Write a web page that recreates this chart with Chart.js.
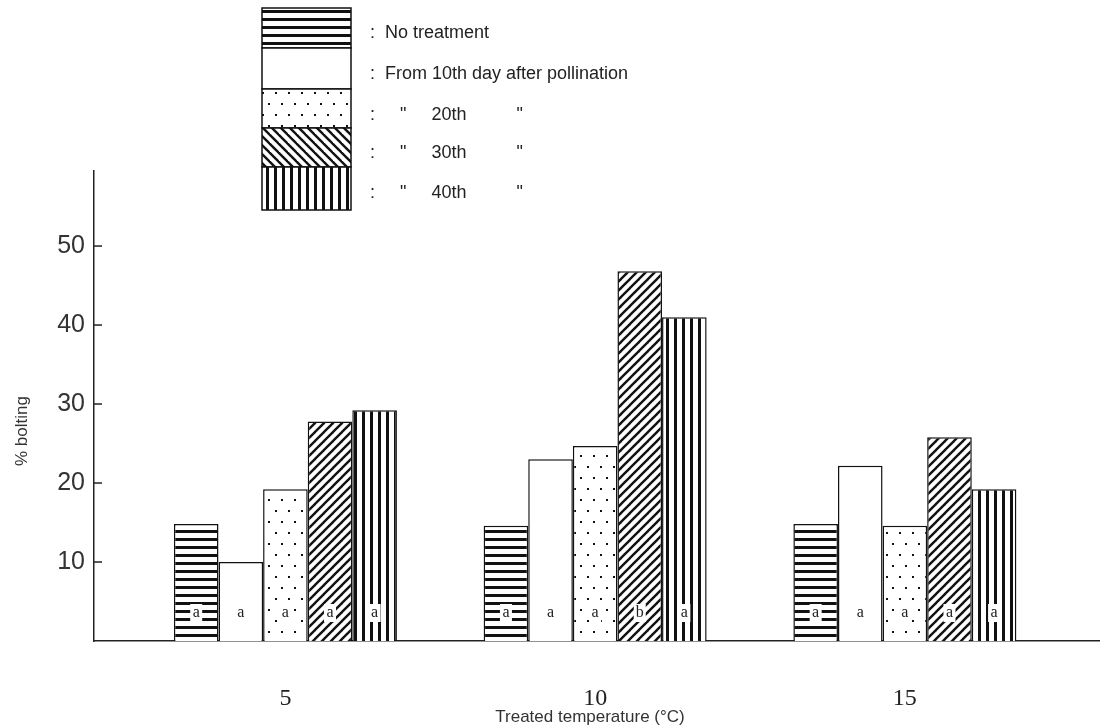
<!DOCTYPE html>
<html>
<head>
<meta charset="utf-8">
<script src="https://cdn.jsdelivr.net/npm/chart.js@4"></script>
<style>
  html, body { margin: 0; padding: 0; background: #fff; }
</style>
</head>
<body>
<canvas id="chart" width="1100" height="728"></canvas>
<script>
// Treated temperature (°C) and % bolting per treatment
const temps = [5, 10, 15];
const noTreatment = [14.8, 14.6, 14.8];
const from10th = [10.0, 23.0, 22.2];
const from20th = [19.2, 24.7, 14.6];
const from30th = [27.8, 46.8, 25.8];
const from40th = [29.2, 41.0, 19.2];
const yTicks = [10, 20, 30, 40, 50];

// significance letters, one list per series
const lettersNo = ['a', 'a', 'a'];
const letters10 = ['a', 'a', 'a'];
const letters20 = ['a', 'a', 'a'];
const letters30 = ['a', 'b', 'a'];
const letters40 = ['a', 'a', 'a'];

const legendLines = [
  ':  No treatment',
  ':  From 10th day after pollination',
  ':     "     20th          "',
  ':     "     30th          "',
  ':     "     40th          "'
];

function makePattern(w, h, draw) {
  const c = document.createElement('canvas');
  c.width = w; c.height = h;
  const g = c.getContext('2d');
  g.fillStyle = '#fff';
  g.fillRect(0, 0, w, h);
  g.fillStyle = '#111';
  g.strokeStyle = '#111';
  draw(g, w, h);
  return g.createPattern(c, 'repeat');
}

const horizPat = makePattern(8, 8, g => g.fillRect(0, 2, 8, 3));
const vertPat = makePattern(8, 8, g => g.fillRect(2, 0, 3, 8));
const dotPat = makePattern(13, 22, g => { g.fillRect(2, 4, 2, 2); g.fillRect(8, 15, 2, 2); });
function diag(dir) {
  return makePattern(9, 9, (g, w, h) => {
    g.lineWidth = 2.4;
    for (const k of [-9, 0, 9]) {
      g.beginPath();
      if (dir > 0) { g.moveTo(k - 1, h + 1); g.lineTo(k + w + 1, -1); }
      else { g.moveTo(k - 1, -1); g.lineTo(k + w + 1, h + 1); }
      g.stroke();
    }
  });
}
const slashPat = diag(1);
const backPat = diag(-1);

const series = [
  { label: 'No treatment', values: noTreatment, fill: horizPat, letters: lettersNo },
  { label: 'From 10th day after pollination', values: from10th, fill: '#fff', letters: letters10 },
  { label: '20th', values: from20th, fill: dotPat, letters: letters20 },
  { label: '30th', values: from30th, fill: slashPat, letters: letters30 },
  { label: '40th', values: from40th, fill: vertPat, letters: letters40 }
];
const legendFills = [horizPat, '#fff', dotPat, backPat, vertPat];

const extras = {
  id: 'extras',
  afterDraw(chart) {
    const ctx = chart.ctx;
    const y = chart.scales.y;
    const area = chart.chartArea;
    ctx.save();

    // inward tick marks on the y axis
    ctx.strokeStyle = '#222';
    ctx.lineWidth = 1.5;
    yTicks.forEach(v => {
      const py = y.getPixelForValue(v);
      ctx.beginPath();
      ctx.moveTo(area.left, py);
      ctx.lineTo(area.left + 8, py);
      ctx.stroke();
    });

    // letters near the bottom of each bar
    ctx.font = '16px "Liberation Serif"';
    ctx.textAlign = 'center';
    ctx.textBaseline = 'middle';
    series.forEach((s, i) => {
      chart.getDatasetMeta(i).data.forEach((bar, j) => {
        const ly = 613;
        if (i !== 1) {
          ctx.fillStyle = '#fff';
          ctx.fillRect(bar.x - 6, ly - 9, 12, 18);
        }
        ctx.fillStyle = '#222';
        ctx.fillText(s.letters[j], bar.x, ly);
      });
    });

    // legend block
    const rows = [8, 48, 89, 128, 167, 210];
    const textY = [33, 74, 115, 153, 193];
    ctx.font = '18px "Liberation Sans"';
    ctx.textAlign = 'left';
    legendFills.forEach((f, i) => {
      ctx.fillStyle = f;
      ctx.fillRect(262, rows[i], 89, rows[i + 1] - rows[i]);
      ctx.strokeStyle = '#111';
      ctx.lineWidth = 1.5;
      ctx.strokeRect(262, rows[i], 89, rows[i + 1] - rows[i]);
      ctx.fillStyle = '#222';
      ctx.fillText(legendLines[i], 370, textY[i]);
    });

    // axis titles
    ctx.fillStyle = '#333';
    ctx.font = '17px "Liberation Sans"';
    ctx.textAlign = 'center';
    ctx.fillText('Treated temperature (°C)', 590, 717);
    ctx.translate(22, 431);
    ctx.rotate(-Math.PI / 2);
    ctx.fillText('% bolting', 0, 0);
    ctx.restore();
  }
};

Chart.defaults.color = '#222';
Chart.defaults.font.family = '"Liberation Sans", sans-serif';

new Chart(document.getElementById('chart'), {
  type: 'bar',
  data: {
    datasets: series.map(s => ({
      label: s.label,
      data: s.values.map((v, j) => ({ x: temps[j], y: v })),
      backgroundColor: s.fill,
      borderColor: '#111',
      borderWidth: 1.5,
      borderSkipped: 'bottom',
      categoryPercentage: 0.72,
      barPercentage: 1.0
    }))
  },
  options: {
    responsive: false,
    animation: false,
    devicePixelRatio: 1,
    layout: { padding: { top: 171, right: 0, left: 0, bottom: 0 } },
    plugins: { legend: { display: false }, tooltip: { enabled: false } },
    scales: {
      x: {
        type: 'linear',
        offset: false,
        min: 1.91,
        max: 18.15,
        afterBuildTicks: s => { s.ticks = temps.map(v => ({ value: v })); },
        afterFit: s => { s.height = 87; },
        grid: { display: false, drawTicks: false, offset: false },
        border: { display: true, color: '#222', width: 1.5 },
        ticks: {
          font: { family: '"Liberation Serif"', size: 24 },
          color: '#222',
          padding: 43,
          callback: v => String(v)
        }
      },
      y: {
        min: 0,
        max: 59.5,
        afterBuildTicks: s => { s.ticks = yTicks.map(v => ({ value: v })); },
        afterFit: s => { s.width = 94; },
        grid: { display: false, drawTicks: false },
        border: { display: true, color: '#222', width: 1.5 },
        ticks: {
          font: { size: 25 },
          color: '#333',
          padding: 9
        }
      }
    }
  },
  plugins: [extras]
});
</script>
</body>
</html>
